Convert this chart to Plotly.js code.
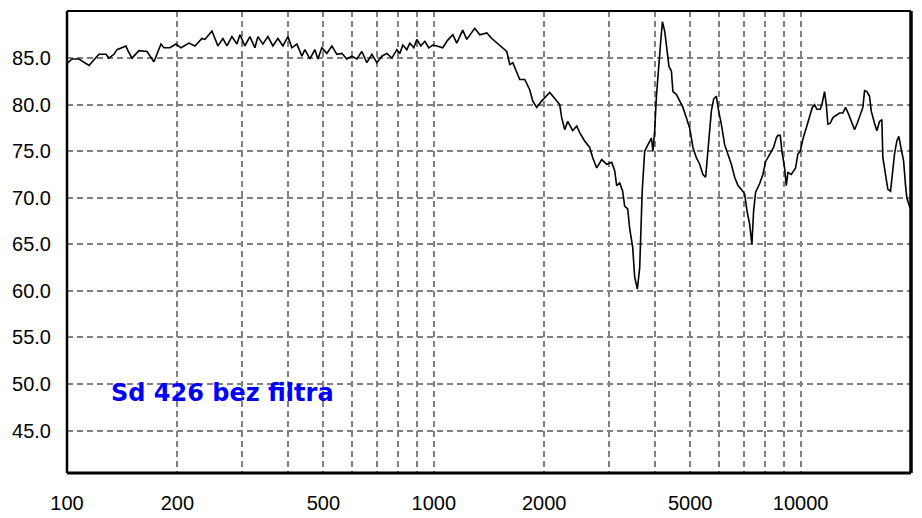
<!DOCTYPE html>
<html>
<head>
<meta charset="utf-8">
<script src="https://cdn.plot.ly/plotly-3.0.1.min.js"></script>
<style>html,body{margin:0;padding:0;background:#fff;}#chart{width:922px;height:518px;}</style>
</head>
<body>
<div id="chart"></div>
<script>
// Frequency (Hz)
const freqHz = [100,103.2,107.8,114.8,122.2,127.7,130.1,134.3,136.9,144.8,146.6,150.4,157.1,165.2,172.6,180.4,183.8,190.8,198.2,204.5,215.0,
223.3,233.3,237.7,248.4,253.1,257.9,266.1,272.9,281.6,290.6,296.1,305.5,315.2,325.3,331.5,342.0,352.9,364.2,375.8,387.8,400.2,410.3,423.4,436.9,445.2,459.4,474.0,
483.0,495.3,511.0,527.4,544.2,561.5,579.4,597.9,617.0,636.6,656.9,677.9,699.5,721.8,744.8,768.6,793.1,808.1,823.4,844.3,860.3,882.2,898.9,921.7,945.1,969.1,993.8,1019,1058,1090,1127,1155,1199,1230,1293,1335,1395,1439,1485,1532,1581,1611,1642,1715,1770,1826,1861,1908,1969,2071,2137,2204,2232,2275,2318,2392,2453,2499,2578,2661,2712,2781,2870,2961,3055,3113,3152,3212,3273,3314,3378,3420,3485,3529,3589,3642,3700,3758,3837,3920,3959,4002,4045,4086,4148,4200,4261,4307,4377,4444,4487,4584,4680,4778,4882,4983,5088,5198,5307,5418,5510,5591,5650,5711,5794,5893,5979,6080,6208,6338,6475,6611,6750,6895,7040,7143,7261,7367,7446,7540,7731,7893,8027,8144,8319,8441,8585,8671,8803,8893,9044,9141,9234,9434,9691,9831,9981,10146,10364,10580,10762,10917,11076,11316,11458,11625,11749,11868,12048,12246,12457,12773,13040,13262,13540,13745,14032,14273,14572,14785,14943,15161,15418,15582,15908,16140,16418,16655,16762,17047,17296,17590,17847,18037,18301,18530,18813,19087,19327,19484,19731,19900];
// Level (dB)
const levelDb = [84.4,84.9,84.9,84.2,85.4,85.4,85.0,85.4,85.9,86.3,85.8,85.0,85.8,85.7,84.6,86.5,86.1,86.1,86.5,86.1,86.6,
86.3,87.1,87.0,87.9,87.0,86.3,87.1,86.3,87.3,86.5,87.5,86.3,87.3,86.1,87.3,86.5,87.3,86.3,87.1,86.3,87.3,86.1,86.5,85.2,85.9,84.9,85.9,
84.9,86.1,85.5,86.3,85.4,85.5,84.9,85.2,84.9,85.7,84.5,85.4,84.5,85.2,85.5,85.0,85.9,85.5,86.4,85.9,86.6,86.1,87.0,86.3,86.8,86.1,86.4,86.3,86.1,86.9,87.5,86.6,88.0,87.0,88.2,87.5,87.7,87.1,86.6,86.1,85.7,84.3,84.5,82.7,82.7,81.6,80.4,79.7,80.4,81.3,80.7,80.0,78.6,77.3,78.2,77.2,77.7,77.0,76.1,75.4,74.3,73.2,74.1,73.6,73.8,72.9,71.3,71.6,70.7,69.1,68.8,66.7,64.7,61.5,60.2,62.5,70.7,75.0,75.7,76.4,75.0,77.2,80.9,83.4,86.4,88.9,87.9,86.4,84.1,83.6,81.4,81.1,80.4,79.7,78.6,77.5,75.4,74.3,73.6,72.5,72.2,75.0,77.5,79.3,80.6,80.9,79.3,77.9,75.7,74.7,73.6,72.2,71.3,70.9,70.4,68.6,67.2,65.0,68.6,70.6,71.5,72.5,73.9,74.3,75.0,75.4,76.4,76.7,76.7,75.0,73.2,71.3,72.7,72.5,73.2,74.7,75.0,76.3,77.5,78.8,79.7,80.0,79.5,79.5,80.2,81.4,80.0,77.9,78.0,78.6,78.8,79.1,79.1,79.7,78.9,78.2,77.3,78.0,78.9,79.7,81.5,81.4,80.9,79.3,78.0,77.2,78.2,78.4,74.3,72.3,70.9,70.7,72.9,74.7,76.1,76.6,75.2,74.0,71.3,70.0,69.3,68.9];

const xGridVals = [100,200,300,400,500,600,700,800,900,1000,2000,3000,4000,5000,6000,7000,8000,9000,10000,20000];
const xGridText = ['100','200','','','500','','','','','1000','2000','','','5000','','','','','10000',''];
const yTickVals = [45,50,55,60,65,70,75,80,85];
const yTickText = ['45.0','50.0','55.0','60.0','65.0','70.0','75.0','80.0','85.0'];
const chartLabel = 'Sd 426 bez filtra';

const trace = {
  x: freqHz, y: levelDb, type: 'scatter', mode: 'lines',
  line: {color: '#000000', width: 1.6, shape: 'linear'},
  hoverinfo: 'skip'
};

const gridStyle = {gridcolor: '#808080', gridwidth: 2, griddash: '6px,4px'};
const layout = {
  width: 922, height: 518,
  margin: {l: 67, r: 11, t: 11, b: 45, pad: 0},
  paper_bgcolor: '#ffffff', plot_bgcolor: '#ffffff',
  showlegend: false,
  font: {family: 'Liberation Sans, Arial, sans-serif', size: 20, color: '#000000'},
  xaxis: Object.assign({
    type: 'log', range: [2, Math.log10(20000)],
    tickmode: 'array', tickvals: xGridVals, ticktext: xGridText,
    showgrid: true, zeroline: false, showline: false, ticks: '',
    ticklabelstandoff: 16,
    tickfont: {family: 'Liberation Sans, Arial, sans-serif', size: 20, color: '#000'}
  }, gridStyle),
  yaxis: Object.assign({
    range: [40.45, 90.05],
    tickmode: 'array', tickvals: yTickVals, ticktext: yTickText,
    showgrid: true, zeroline: false, showline: false, ticks: '',
    ticklabelstandoff: 15,
    tickfont: {family: 'Liberation Sans, Arial, sans-serif', size: 20, color: '#000'}
  }, gridStyle),
  shapes: [
    {type: 'line', xref: 'paper', yref: 'paper', x0: 0, x1: 1, y0: 1, y1: 1, line: {color: '#000', width: 2}},
    {type: 'line', xref: 'paper', yref: 'paper', x0: 0, x1: 0, y0: 0, y1: 1, line: {color: '#000', width: 2.5}},
    {type: 'line', xref: 'paper', yref: 'paper', x0: 0, x1: 1, y0: 0, y1: 0, line: {color: '#000', width: 3}},
    {type: 'line', xref: 'paper', yref: 'paper', x0: 1, x1: 1, y0: 0, y1: 1, line: {color: '#000', width: 3.5}}
  ],
  annotations: [{
    text: chartLabel, xref: 'paper', yref: 'paper',
    x: 0.0498, y: 0.173, xanchor: 'left', yanchor: 'middle', showarrow: false,
    font: {family: 'DejaVu Sans, sans-serif', size: 24, color: '#0000FF', weight: 'bold'}
  }]
};

Plotly.newPlot('chart', [trace], layout, {displayModeBar: false, staticPlot: true});
</script>
</body>
</html>
